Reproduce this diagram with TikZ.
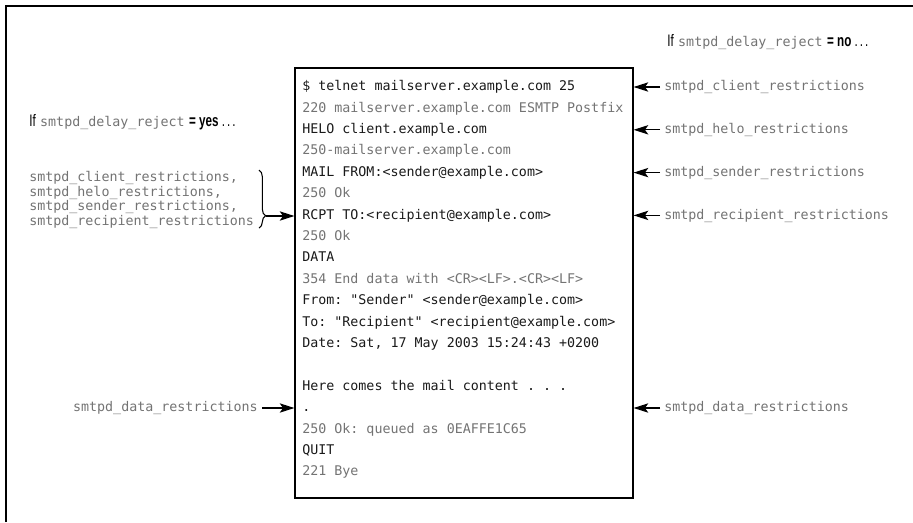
\documentclass[tikz,border=0pt]{standalone}
\usepackage{fontspec}
\setsansfont{Liberation Sans}
\setmonofont{DejaVu Sans Mono}
\usepackage{graphicx}
\usetikzlibrary{arrows.meta,positioning,calc,decorations.pathreplacing}
\definecolor{resp}{gray}{0.45}
\newcommand{\sw}[1]{{\sffamily\fontsize{12.5}{14}\selectfont\scalebox{0.7}[1]{#1}}}

\begin{document}
\begin{tikzpicture}[x=0.75pt,y=-0.75pt,
    cmd/.style={anchor=west, inner sep=0pt, text height=7.5pt, text depth=2pt, font=\ttfamily\fontsize{10}{12}\selectfont, text=black!90},
    rsp/.style={cmd, text=resp},
    lbl/.style={anchor=west, inner sep=3pt, text height=7.5pt, text depth=2pt, font=\ttfamily\fontsize{10}{12}\selectfont, text=resp},
    arr/.style={-{Stealth[length=11pt,width=7pt,inset=2.5pt]}, line width=0.9pt},
    frame/.style={line width=2.2pt}
]
\useasboundingbox (0,0) rectangle (913,522);
\draw[frame] (6,522) -- (6,6) -- (913,6);

% the SMTP session
\node[draw, line width=0.9pt, minimum width=253.5pt, minimum height=322.5pt, inner sep=0pt] (box) at (464,283) {};
\node[cmd] (r0) at (302,87) {\$ telnet mailserver.example.com 25};
\node[rsp] (r1) at (302,108.4) {220 mailserver.example.com ESMTP Postfix};
\node[cmd] (r2) at (302,129.8) {HELO client.example.com};
\node[rsp] (r3) at (302,151.2) {250-mailserver.example.com};
\node[cmd] (r4) at (302,172.6) {MAIL FROM:<sender@example.com>};
\node[rsp] (r5) at (302,194) {250 Ok};
\node[cmd] (r6) at (302,215.4) {RCPT TO:<recipient@example.com>};
\node[rsp] (r7) at (302,236.8) {250 Ok};
\node[cmd] (r8) at (302,258.2) {DATA};
\node[rsp] (r9) at (302,279.6) {354 End data with <CR><LF>.<CR><LF>};
\node[cmd] (r10) at (302,301) {From: "Sender" <sender@example.com>};
\node[cmd] (r11) at (302,322.4) {To: "Recipient" <recipient@example.com>};
\node[cmd] (r12) at (302,343.8) {Date: Sat, 17 May 2003 15:24:43 +0200};
\node[cmd] (r14) at (302,386.6) {Here comes the mail content . . .};
\node[cmd] (r15) at (302,408) {.};
\node[rsp] (r16) at (302,429.4) {250 Ok: queued as 0EAFFE1C65};
\node[cmd] (r17) at (302,450.8) {QUIT};
\node[rsp] (r18) at (302,472.2) {221 Bye};

% delay_reject = no
\node[anchor=west, inner sep=0pt, font=\fontsize{10}{12}\selectfont] (ifno) at (667,42) {\sw{If} {\ttfamily\color{resp}smtpd\_delay\_reject} \sw{\textbf{= no} .\,.\,.}};
\node[lbl] (lc) at (660,87) {smtpd\_client\_restrictions};
\node[lbl] (lh) at (660,129.8) {smtpd\_helo\_restrictions};
\node[lbl] (ls) at (660,172.6) {smtpd\_sender\_restrictions};
\node[lbl] (lr) at (660,215.4) {smtpd\_recipient\_restrictions};
\node[lbl] (ld) at (660,408) {smtpd\_data\_restrictions};
\draw[arr] (lc.west) -- (lc.west -| box.east);
\draw[arr] (lh.west) -- (lh.west -| box.east);
\draw[arr] (ls.west) -- (ls.west -| box.east);
\draw[arr] (lr.west) -- (lr.west -| box.east);
\draw[arr] (ld.west) -- (ld.west -| box.east);

% delay_reject = yes
\node[anchor=west, inner sep=0pt, font=\fontsize{10}{12}\selectfont] (ifyes) at (29,122) {\sw{If} {\ttfamily\color{resp}smtpd\_delay\_reject} \sw{\textbf{= yes} .\,.\,.}};
\node[anchor=west, align=left, inner sep=0pt, font=\ttfamily\fontsize{10}{10.8}\selectfont, text=resp] (lst) at (29,200) {smtpd\_client\_restrictions,\\smtpd\_helo\_restrictions,\\smtpd\_sender\_restrictions,\\smtpd\_recipient\_restrictions};
\draw[decorate, decoration={brace, amplitude=5pt, aspect=0.79}, line width=0.8pt] (259,170) -- (259,228);
\coordinate (bt) at (266,216);
\draw[arr] (bt) -- (bt -| box.west);
\node[lbl, anchor=east] (ldl) at (262,408) {smtpd\_data\_restrictions};
\draw[arr] (ldl.east) -- (ldl.east -| box.west);
\end{tikzpicture}
\end{document}
